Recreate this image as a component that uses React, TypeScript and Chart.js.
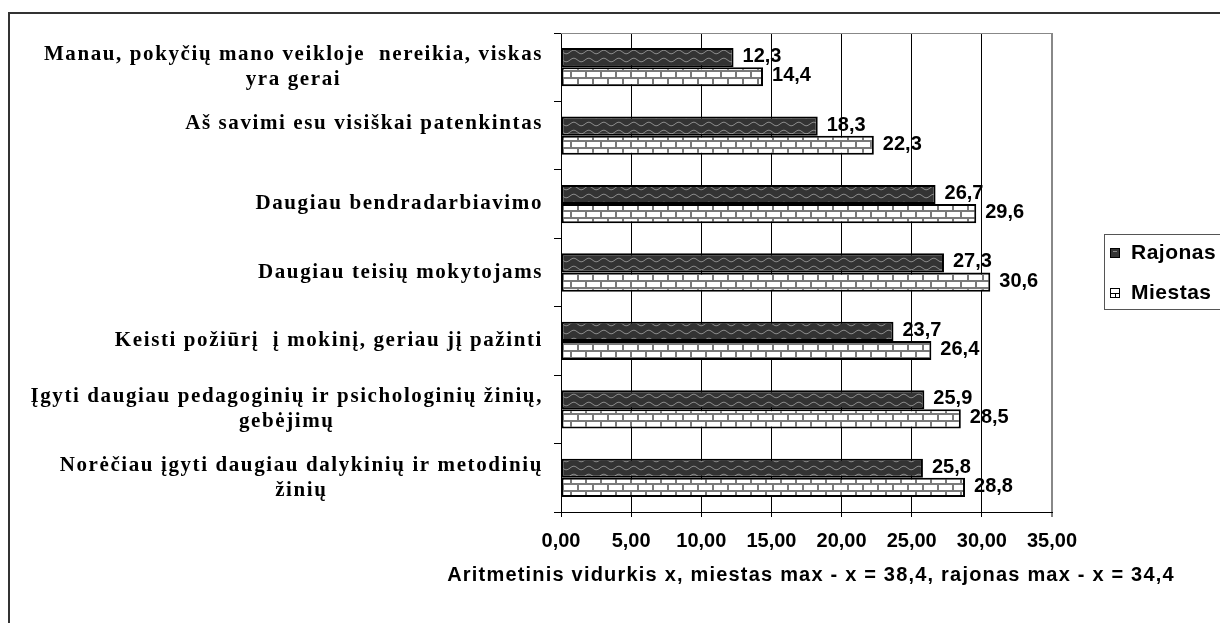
import React, { useEffect, useRef } from "react";
import { Chart, registerables } from "chart.js";

Chart.register(...registerables);

const categories: string[][] = [
  ["Manau, pokyčių mano veikloje  nereikia, viskas", "yra gerai"],
  ["Aš savimi esu visiškai patenkintas", ""],
  ["Daugiau bendradarbiavimo"],
  ["Daugiau teisių mokytojams"],
  ["Keisti požiūrį  į mokinį, geriau jį pažinti"],
  ["Įgyti daugiau pedagoginių ir psichologinių žinių,", "gebėjimų"],
  ["Norėčiau įgyti daugiau dalykinių ir metodinių", "žinių"],
];
const rajonas = [12.3, 18.3, 26.7, 27.3, 23.7, 25.9, 25.8];
const miestas = [14.4, 22.3, 29.6, 30.6, 26.4, 28.5, 28.8];
const seriesNames = ["Rajonas", "Miestas"];
const xMin = 0;
const xMax = 35;
const xStep = 5;
const axisTitle = "Aritmetinis vidurkis x, miestas max - x = 38,4, rajonas max - x = 34,4";

const SERIF = '"Liberation Serif", "Times New Roman", serif';
const SANS = '"Liberation Sans", Arial, sans-serif';

function makeWave(ctx: CanvasRenderingContext2D): CanvasPattern | string {
  const c = document.createElement("canvas");
  c.width = 15;
  c.height = 8;
  const g = c.getContext("2d");
  if (!g) return "#333";
  g.fillStyle = "#333333";
  g.fillRect(0, 0, 15, 8);
  g.strokeStyle = "#8c8c8c";
  g.lineWidth = 1;
  g.beginPath();
  for (let x = 0; x <= 15; x++) {
    const y = 4 - 1.8 * Math.sin((x / 15) * 2 * Math.PI);
    if (x === 0) g.moveTo(x, y);
    else g.lineTo(x, y);
  }
  g.stroke();
  return ctx.createPattern(c, "repeat") || "#333";
}

function makeBrick(ctx: CanvasRenderingContext2D): CanvasPattern | string {
  const c = document.createElement("canvas");
  c.width = 15;
  c.height = 14;
  const g = c.getContext("2d");
  if (!g) return "#fff";
  g.fillStyle = "#ffffff";
  g.fillRect(0, 0, 15, 14);
  g.fillStyle = "#7a7a7a";
  g.fillRect(0, 0, 15, 2);
  g.fillRect(0, 7, 15, 2);
  g.fillRect(0, 0, 2, 7);
  g.fillRect(7, 7, 2, 7);
  return ctx.createPattern(c, "repeat") || "#fff";
}

const fmt = (v: number) => v.toFixed(1).replace(".", ",");

export default function App() {
  const ref = useRef<HTMLCanvasElement | null>(null);

  useEffect(() => {
    const canvas = ref.current;
    if (!canvas) return;
    const ctx0 = canvas.getContext("2d");
    if (!ctx0) return;
    const wave = makeWave(ctx0);
    const brick = makeBrick(ctx0);

    const decor = {
      id: "decor",
      beforeDraw(chart: any) {
        const ctx = chart.ctx as CanvasRenderingContext2D;
        ctx.save();
        ctx.fillStyle = "#fff";
        ctx.fillRect(0, 0, chart.width, chart.height);
        ctx.strokeStyle = "#333";
        ctx.lineWidth = 2;
        ctx.strokeRect(9, 13, 1400, 800);
        ctx.restore();
      },
      afterDraw(chart: any) {
        const ctx = chart.ctx as CanvasRenderingContext2D;
        const area = chart.chartArea;
        const yScale = chart.scales.y;
        ctx.save();
        // plot top border
        ctx.strokeStyle = "#888";
        ctx.lineWidth = 1;
        ctx.beginPath();
        ctx.moveTo(area.left, Math.round(area.top) + 0.5);
        ctx.lineTo(area.right, Math.round(area.top) + 0.5);
        ctx.stroke();

        // y category labels
        ctx.fillStyle = "#000";
        ctx.font = `bold 21px ${SERIF}`;
        (ctx as any).letterSpacing = "1.6px";
        ctx.textBaseline = "middle";
        ctx.textAlign = "center";
        const rightX = 543;
        const lh = 25;
        categories.forEach((lines, i) => {
          const y = yScale.getPixelForValue(i);
          let w = 0;
          lines.forEach((l) => {
            w = Math.max(w, ctx.measureText(l).width);
          });
          const cx = rightX - w / 2;
          lines.forEach((l, j) => {
            const ly = y + (j - (lines.length - 1) / 2) * lh;
            ctx.fillText(l, cx, ly);
          });
        });

        // value labels
        (ctx as any).letterSpacing = "0px";
        ctx.font = `bold 20px ${SANS}`;
        ctx.textAlign = "left";
        chart.data.datasets.forEach((ds: any, di: number) => {
          const meta = chart.getDatasetMeta(di);
          meta.data.forEach((el: any, i: number) => {
            ctx.fillText(fmt(ds.data[i]), el.x + 9, el.y - 1);
          });
        });

        // axis title
        ctx.font = `bold 20px ${SANS}`;
        (ctx as any).letterSpacing = "1.2px";
        ctx.textAlign = "center";
        ctx.fillText(axisTitle, 811, 575);
        (ctx as any).letterSpacing = "0px";

        // legend
        ctx.strokeStyle = "#555";
        ctx.lineWidth = 1;
        ctx.strokeRect(1104.5, 234.5, 140, 75);
        const items = [
          { name: seriesNames[0], y: 253 },
          { name: seriesNames[1], y: 293 },
        ];
        items.forEach((it, k) => {
          ctx.fillStyle = k === 0 ? "#333" : "#fff";
          ctx.fillRect(1110, it.y - 5, 10, 10);
          ctx.strokeStyle = "#000";
          ctx.lineWidth = 1;
          ctx.strokeRect(1110.5, it.y - 4.5, 9, 9);
          if (k === 1) {
            ctx.beginPath();
            ctx.moveTo(1111, it.y + 0.5);
            ctx.lineTo(1119, it.y + 0.5);
            ctx.moveTo(1115.5, it.y);
            ctx.lineTo(1115.5, it.y + 5);
            ctx.stroke();
          } else {
            ctx.fillStyle = "#888";
            ctx.fillRect(1113, it.y - 2, 4, 1);
          }
          ctx.fillStyle = "#000";
          ctx.font = `bold 21px ${SANS}`;
          (ctx as any).letterSpacing = "0.5px";
          ctx.textAlign = "left";
          ctx.textBaseline = "middle";
          ctx.fillText(it.name, 1131, it.y);
          (ctx as any).letterSpacing = "0px";
        });
        ctx.restore();
      },
    };

    const chart = new Chart(canvas, {
      type: "bar",
      data: {
        labels: categories.map((c) => c.join(" ").trim()),
        datasets: [
          {
            label: seriesNames[0],
            data: rajonas,
            backgroundColor: wave as any,
            borderColor: "#000",
            borderWidth: 2,
            borderSkipped: false,
            categoryPercentage: 0.56,
            barPercentage: 1,
          },
          {
            label: seriesNames[1],
            data: miestas,
            backgroundColor: brick as any,
            borderColor: "#000",
            borderWidth: 2,
            borderSkipped: false,
            categoryPercentage: 0.56,
            barPercentage: 1,
          },
        ],
      },
      options: {
        indexAxis: "y",
        responsive: false,
        animation: false,
        events: [],
        layout: { padding: { top: 33, right: 168, bottom: 0, left: 0 } },
        plugins: {
          legend: { display: false },
          tooltip: { enabled: false },
          title: { display: false },
        },
        scales: {
          x: {
            type: "linear",
            min: xMin,
            max: xMax,
            ticks: {
              stepSize: xStep,
              color: "#000",
              font: { family: SANS, size: 20, weight: "bold" },
              padding: 12,
              maxRotation: 0,
              callback: (v: any) => Number(v).toFixed(2).replace(".", ","),
            },
            grid: {
              color: (c: any) => (c.tick && c.tick.value === xMax ? "#888" : "#000"),
              lineWidth: (c: any) => (c.tick && c.tick.value === xMax ? 2 : 1),
              tickLength: 5,
              tickColor: "#000",
              tickWidth: 1,
            },
            border: { display: true, color: "#000", width: 1 },
            afterFit: (s: any) => {
              s.height = 111;
            },
          },
          y: {
            type: "category",
            offset: true,
            ticks: { display: false },
            grid: {
              display: true,
              drawOnChartArea: false,
              drawTicks: true,
              tickLength: 7,
              color: "#000",
              offset: true,
            },
            border: { display: true, color: "#000", width: 1 },
            afterFit: (s: any) => {
              s.width = 561;
            },
          },
        },
      } as any,
      plugins: [decor],
    });

    return () => chart.destroy();
  }, []);

  return (
    <div style={{ position: "absolute", left: 0, top: 0, width: 1220, height: 623, overflow: "hidden" }}>
      <canvas ref={ref} width={1220} height={623} style={{ display: "block" }} />
    </div>
  );
}
